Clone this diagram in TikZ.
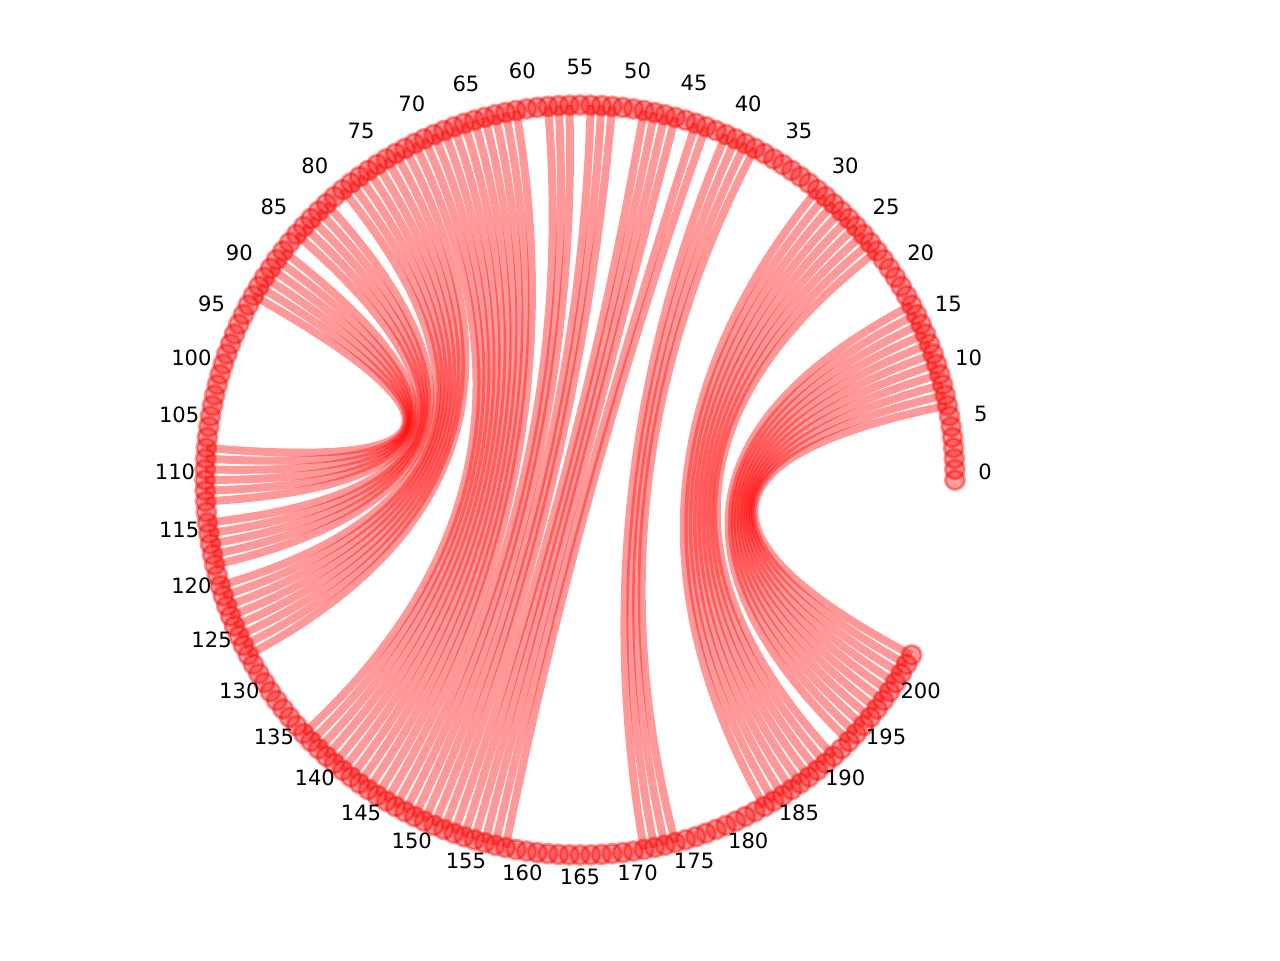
\documentclass[tikz,border=0pt]{standalone}
\usepackage{fontspec}
\setmainfont{DejaVu Sans}
\usepackage{tikz}
\usetikzlibrary{calc}
\definecolor{arcRed}{HTML}{FF0000}
\tikzset{
  chordLine/.style={draw=arcRed, opacity=0.4, line width=0.16cm},
  seqDot/.style={fill=arcRed, fill opacity=0.38, draw=arcRed, draw opacity=0.42, line width=0.06cm},
  tickLabel/.style={font=\fontsize{12}{14}\selectfont, text=black, inner sep=0pt}
}
\begin{document}
\begin{tikzpicture}[x=0.02cm,y=0.02cm]
  \useasboundingbox (-580,-480) rectangle (700,480);
  \coordinate (o) at (0,0);
  \foreach \i in {0,...,203}
    \coordinate (n\i) at ({\i*(360/220)}:375);
  \foreach \a/\b/\m in {7/203/10, 23/191/8, 38/174/3, 61/146/10, 72/127/7, 81/118/4, 87/112/5}
    \foreach \k in {0,...,\m}{
      \pgfmathtruncatemacro\p{\a+\k}
      \pgfmathtruncatemacro\q{\b-\k}
      \draw[chordLine] (n\p) .. controls ($(n\p)!0.6667!(o)$) and ($(n\q)!0.6667!(o)$) .. (n\q);
    }
  \foreach \s/\t in {43/158, 44/157, 46/156, 47/155, 48/154, 49/153, 52/152, 53/151, 54/150, 56/149, 57/148, 58/147}
    \draw[chordLine] (n\s) .. controls ($(n\s)!0.6667!(o)$) and ($(n\t)!0.6667!(o)$) .. (n\t);
  \foreach \i in {0,...,203}
    \draw[seqDot] (n\i) circle (0.19cm);
  \foreach \i in {0,5,...,200}
    \node[tickLabel] (t\i) at ($({\i*(360/220)}:405)+(0,8)$) {\i};
\end{tikzpicture}
\end{document}
